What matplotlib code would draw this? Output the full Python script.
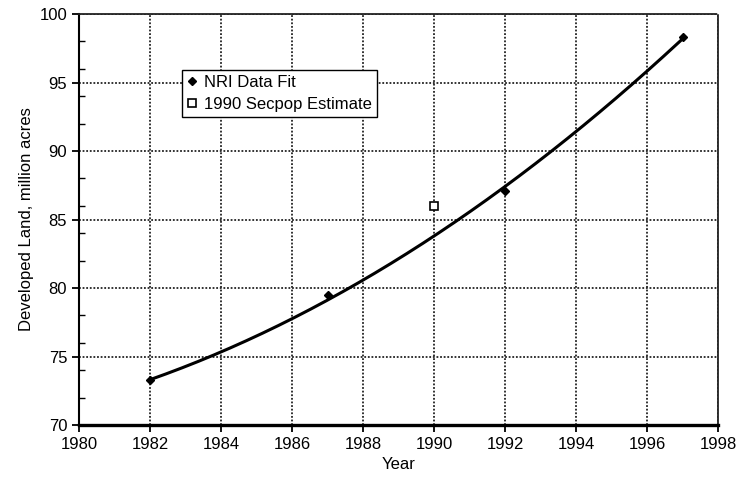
#! /usr/bin/env python

# developed land vs year, NRI fit and secpop estimate
import numpy as np
import matplotlib
matplotlib.use('Agg')
import matplotlib.pyplot as plt
from matplotlib.ticker import MultipleLocator

plt.rcParams['font.family'] = ['Liberation Sans', 'DejaVu Sans']

# NRI data points
nri_years = [1982, 1987, 1992, 1997]
nri_acres = [73.3, 79.5, 87.1, 98.3]

# fit curve
fit_years = [1982, 1984, 1986, 1988, 1990, 1992, 1994, 1996, 1997]
fit_acres = [73.3, 75.3, 77.8, 80.6, 83.8, 87.4, 91.4, 95.7, 98.3]

# secpop estimate
sec_years = [1990]
sec_acres = [86.0]

fig = plt.figure(figsize=(7.4, 4.86), dpi=100)
ax = fig.add_axes([79/740, 1-425/486, (718-79)/740, (425-14)/486])

# smooth the fit with a quadratic through the read points
coef = np.polyfit(fit_years, fit_acres, 2)
xs = np.linspace(fit_years[0], fit_years[-1], 200)
ax.plot(xs, np.polyval(coef, xs), color='black', lw=2.2, zorder=3)

ax.plot(nri_years, nri_acres, linestyle='none', marker='D', markersize=4.5,
        color='black', label='NRI Data Fit', zorder=4)
ax.plot(sec_years, sec_acres, linestyle='none', marker='s', markersize=5.5,
        markerfacecolor='white', markeredgecolor='black', markeredgewidth=1.2,
        label='1990 Secpop Estimate', zorder=4)

ax.set_xlim(1980, 1998)
ax.set_ylim(70, 100)
ax.xaxis.set_major_locator(MultipleLocator(2))
ax.yaxis.set_major_locator(MultipleLocator(5))
ax.yaxis.set_minor_locator(MultipleLocator(2))

ax.grid(True, which='major', color='#222222', linestyle=(0, (1, 1)), lw=1.3)
ax.set_axisbelow(True)

for s in ['top', 'right']:
    ax.spines[s].set_linestyle((0, (1, 1)))
    ax.spines[s].set_linewidth(1.3)
    ax.spines[s].set_color('#222222')
ax.spines['left'].set_linewidth(1.5)
ax.spines['bottom'].set_linewidth(2.4)

ax.tick_params(axis='both', which='major', direction='out', length=5, width=1.3,
               labelsize=12, colors='black')
ax.tick_params(axis='y', which='minor', direction='in', length=4, width=1)

ax.set_xlabel('Year', fontsize=12)
ax.set_ylabel('Developed Land, million acres', fontsize=12)

leg = ax.legend(loc='upper left', bbox_to_anchor=((182-79)/639, 1-(70-14)/411),
                fontsize=12, frameon=True, fancybox=False, framealpha=1,
                edgecolor='black', handlelength=0.6, handletextpad=0.4,
                borderpad=0.3, labelspacing=0.4, borderaxespad=0)
leg.get_frame().set_linewidth(1.0)

plt.savefig('out.png', dpi=100)
